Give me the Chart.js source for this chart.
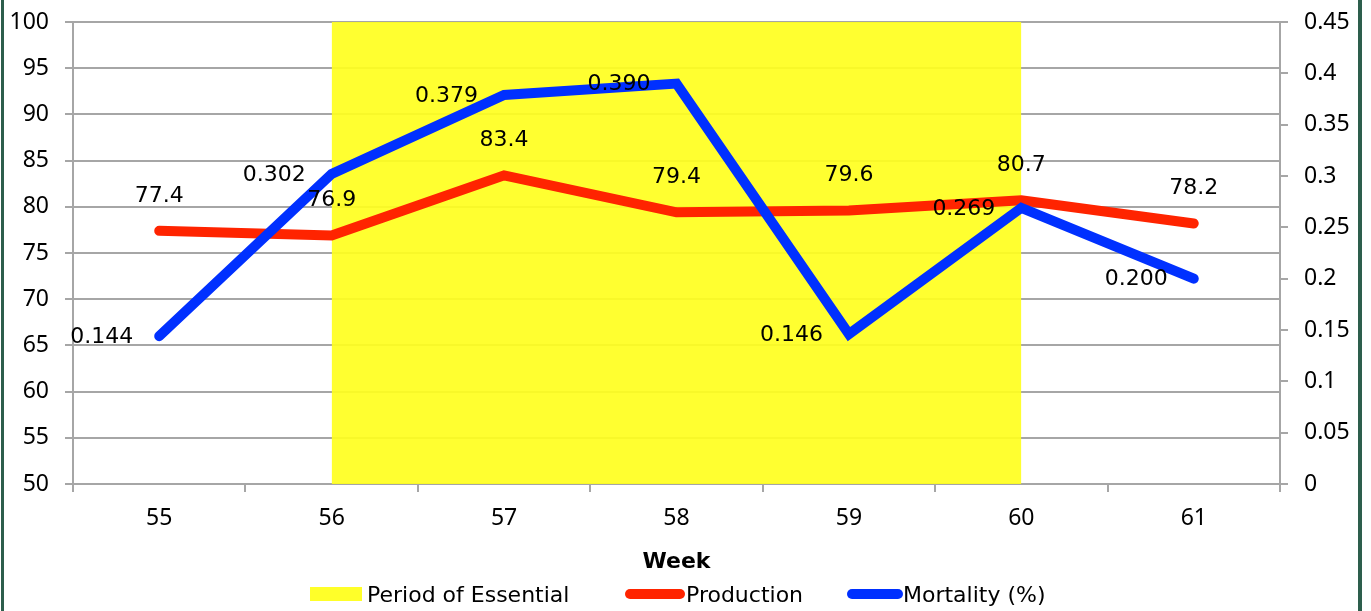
<!DOCTYPE html>
<html>
<head>
<meta charset="utf-8">
<script src="https://cdn.jsdelivr.net/npm/chart.js@4.4.0/dist/chart.umd.min.js"></script>
<style>
  body { margin: 0; background: #fff; }
  #wrap { position: relative; width: 1371px; height: 611px; overflow: hidden; }
  #myChart { position: absolute; left: 0; top: 0; }
  .edge { position: absolute; top: 0; height: 611px; background: #2d5e4c; }
  .legend { position: absolute; font: 22px "DejaVu Sans", sans-serif; color: #000; white-space: nowrap; }
  .swatch { position: absolute; }
</style>
</head>
<body>
<div id="wrap">
  <canvas id="myChart" width="1371" height="611"></canvas>
  <div class="edge" style="left:1px;width:3px;"></div>
  <div class="edge" style="left:1358px;width:4px;"></div>
  <!-- legend -->
  <div class="swatch" style="left:310px;top:587px;width:52px;height:14px;background:#ffff29;"></div>
  <div class="legend" style="left:367px;top:582px;">Period of Essential</div>
  <div class="swatch" style="left:625px;top:589px;width:60px;height:10px;border-radius:5px;background:#ff2400;"></div>
  <div class="legend" style="left:686px;top:582px;">Production</div>
  <div class="swatch" style="left:847px;top:589px;width:56px;height:10px;border-radius:5px;background:#0030ff;"></div>
  <div class="legend" style="left:903px;top:582px;">Mortality (%)</div>
</div>
<script>
// data
const weeks = ['55', '56', '57', '58', '59', '60', '61'];
const essential = [null, 100, 100, 100, 100, 100, null]; // shaded weeks 56-60
const production = [77.4, 76.9, 83.4, 79.4, 79.6, 80.7, 78.2];
const mortality = [0.144, 0.302, 0.379, 0.390, 0.146, 0.269, 0.200];

const gridColor = '#a6a6a6';

// value labels like the excel ones
const valueLabels = {
    id: 'valueLabels',
    afterDatasetsDraw(chart) {
        const ctx = chart.ctx;
        ctx.save();
        ctx.font = '22px "DejaVu Sans"';
        ctx.fillStyle = '#000';
        ctx.textBaseline = 'middle';
        // production: above the point
        ctx.textAlign = 'center';
        chart.getDatasetMeta(1).data.forEach(function(pt, i){
            ctx.fillText(production[i].toFixed(1), pt.x, pt.y - 35);
        });
        // mortality: left of the point
        ctx.textAlign = 'right';
        chart.getDatasetMeta(2).data.forEach(function(pt, i){
            ctx.fillText(mortality[i].toFixed(3), pt.x - 26, pt.y + 1);
        });
        ctx.restore();
    }
};

function fixWidth(w){
    return function(scale){
        scale.width = w;
        scale.paddingTop = 0;
        scale.paddingBottom = 0;
    };
}

const ctx = document.getElementById('myChart').getContext('2d');
const myChart = new Chart(ctx, {
    type: 'line',
    data: {
        labels: weeks,
        datasets: [{
            label: 'Period of Essential',
            data: essential,
            yAxisID: 'y',
            backgroundColor: 'rgba(255, 255, 30, 0.92)',
            borderWidth: 0,
            pointRadius: 0,
            fill: 'start',
            order: 3
        }, {
            label: 'Production',
            data: production,
            yAxisID: 'y',
            borderColor: '#ff2400',
            borderWidth: 10,
            borderCapStyle: 'round',
            pointRadius: 0,
            tension: 0,
            fill: false,
            order: 2
        }, {
            label: 'Mortality (%)',
            data: mortality,
            yAxisID: 'y1',
            borderColor: '#0030ff',
            borderWidth: 10,
            borderCapStyle: 'round',
            pointRadius: 0,
            tension: 0,
            fill: false,
            order: 1
        }]
    },
    options: {
        responsive: false,
        animation: false,
        layout: { padding: { top: 22, left: 0, right: 0, bottom: 0 } },
        plugins: {
            legend: { display: false },
            tooltip: { enabled: false }
        },
        scales: {
            x: {
                offset: true,
                grid: { offset: true, drawOnChartArea: false, color: gridColor, lineWidth: 2, tickLength: 8 },
                border: { color: gridColor, width: 2 },
                ticks: { color: '#000', font: { family: 'Noto Sans', size: 23 }, padding: 13 },
                title: {
                    display: true,
                    text: 'Week',
                    color: '#000',
                    font: { family: 'DejaVu Sans', size: 22, weight: 'bold' },
                    padding: { top: 0, bottom: 36 }
                },
                afterFit: function(scale){ scale.height = 127; scale.paddingLeft = 0; scale.paddingRight = 0; }
            },
            y: {
                position: 'left',
                min: 50,
                max: 100,
                ticks: { stepSize: 5, color: '#000', font: { family: 'Noto Sans', size: 23 }, padding: 16 },
                grid: { color: gridColor, lineWidth: 2, tickLength: 8 },
                border: { color: gridColor, width: 2 },
                afterFit: fixWidth(73)
            },
            y1: {
                position: 'right',
                min: 0,
                max: 0.45,
                ticks: {
                    stepSize: 0.05,
                    color: '#000',
                    font: { family: 'Noto Sans', size: 23 },
                    padding: 16,
                    callback: function(value){ return String(Number(value.toFixed(2))); }
                },
                grid: { drawOnChartArea: false, color: gridColor, lineWidth: 2, tickLength: 8 },
                border: { color: gridColor, width: 2 },
                afterFit: fixWidth(91)
            }
        }
    },
    plugins: [valueLabels]
});
</script>
</body>
</html>
